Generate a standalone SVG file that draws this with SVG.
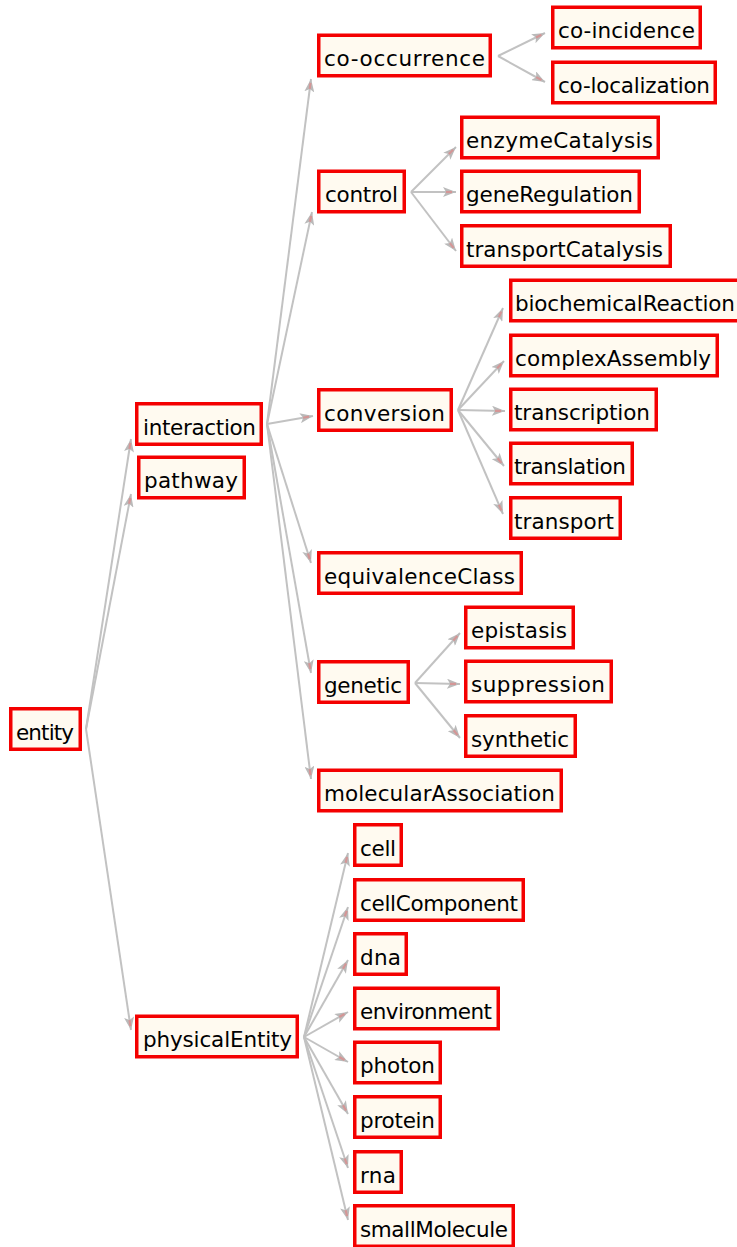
<svg xmlns="http://www.w3.org/2000/svg" width="737" height="1247" viewBox="0 0 737 1247">
  <style>
    .node rect { fill: #fffaf0; stroke: #f40000; stroke-width: 3.5; }
    .node text { font-family: "DejaVu Sans", Verdana, sans-serif; font-size: 21.5px; fill: #000; }
    .edges path { fill: none; stroke: #c2c2c2; stroke-width: 2; marker-end: url(#arr); }
  </style>
  <defs>
    <marker id="arr" markerUnits="userSpaceOnUse" markerWidth="14" markerHeight="10" refX="13" refY="5" orient="auto">
      <path d="M0,0 L13,5 L0,10 L3,5 Z" fill="#bababa"/>
      <path d="M3,5 L9,5" stroke="#d49696" stroke-width="2.2"/>
    </marker>
  </defs>
  <rect width="737" height="1247" fill="#ffffff"/>

  <!-- connectors: parent right side to child left side -->
  <g id="edges" class="edges">
    <path d="M86,729 L131,439"/>
    <path d="M86,729 L131,494"/>
    <path d="M86,729 L131,1030"/>
    <path d="M267,424 L311,79"/>
    <path d="M267,424 L312,212"/>
    <path d="M267,424 L313,416"/>
    <path d="M267,424 L311,563"/>
    <path d="M267,424 L311,673"/>
    <path d="M267,424 L311,779"/>
    <path d="M498,56 L545,33"/>
    <path d="M498,56 L545,82"/>
    <path d="M411,192 L456,147"/>
    <path d="M411,192 L456,192"/>
    <path d="M411,192 L456,251"/>
    <path d="M458,410 L503,308"/>
    <path d="M458,410 L504,361"/>
    <path d="M458,410 L505,411"/>
    <path d="M458,410 L504,466"/>
    <path d="M458,410 L503,514"/>
    <path d="M415,683 L460,633"/>
    <path d="M415,683 L460,684"/>
    <path d="M415,683 L460,738"/>
    <path d="M304,1037 L348,853"/>
    <path d="M304,1037 L348,907"/>
    <path d="M304,1037 L348,960"/>
    <path d="M304,1037 L348,1012"/>
    <path d="M304,1037 L348,1062"/>
    <path d="M304,1037 L348,1114"/>
    <path d="M304,1037 L348,1168"/>
    <path d="M304,1037 L348,1220"/>
  </g>

  <!-- nodes: outer box edge at x,y; size w x 44 -->
  <g id="n-entity" class="node"><rect x="10.75" y="708.75" width="69.5" height="40.5"/><text x="16" y="739.5" textLength="58" lengthAdjust="spacing">entity</text></g>
  <g id="n-interaction" class="node"><rect x="136.75" y="403.75" width="124.5" height="40.5"/><text x="143" y="434.5" textLength="113" lengthAdjust="spacing">interaction</text></g>
  <g id="n-pathway" class="node"><rect x="138.75" y="457.25" width="105.5" height="40.5"/><text x="144" y="488" textLength="94" lengthAdjust="spacing">pathway</text></g>
  <g id="n-physicalEntity" class="node"><rect x="136.75" y="1016.25" width="160.5" height="40.5"/><text x="143" y="1047" textLength="149" lengthAdjust="spacing">physicalEntity</text></g>

  <g id="n-co-occurrence" class="node"><rect x="318.75" y="35.25" width="171.5" height="40.5"/><text x="324" y="66" textLength="161" lengthAdjust="spacing">co-occurrence</text></g>
  <g id="n-control" class="node"><rect x="318.75" y="171.25" width="85.5" height="40.5"/><text x="325" y="202" textLength="73" lengthAdjust="spacing">control</text></g>
  <g id="n-conversion" class="node"><rect x="318.75" y="389.75" width="132.5" height="40.5"/><text x="324" y="420.5" textLength="121" lengthAdjust="spacing">conversion</text></g>
  <g id="n-equivalenceClass" class="node"><rect x="318.75" y="552.75" width="202.5" height="40.5"/><text x="324" y="583.5" textLength="191" lengthAdjust="spacing">equivalenceClass</text></g>
  <g id="n-genetic" class="node"><rect x="318.75" y="661.75" width="89.5" height="40.5"/><text x="324" y="692.5" textLength="78" lengthAdjust="spacing">genetic</text></g>
  <g id="n-molecularAssociation" class="node"><rect x="318.75" y="770.25" width="242.5" height="40.5"/><text x="324" y="801" textLength="231" lengthAdjust="spacing">molecularAssociation</text></g>

  <g id="n-co-incidence" class="node"><rect x="552.75" y="7.25" width="147.5" height="40.5"/><text x="558" y="38" textLength="137" lengthAdjust="spacing">co-incidence</text></g>
  <g id="n-co-localization" class="node"><rect x="552.75" y="62.25" width="162.5" height="40.5"/><text x="558" y="93" textLength="152" lengthAdjust="spacing">co-localization</text></g>

  <g id="n-enzymeCatalysis" class="node"><rect x="461.75" y="117.25" width="196.5" height="40.5"/><text x="466" y="148" textLength="187" lengthAdjust="spacing">enzymeCatalysis</text></g>
  <g id="n-geneRegulation" class="node"><rect x="461.75" y="171.25" width="177.5" height="40.5"/><text x="466" y="202" textLength="167" lengthAdjust="spacing">geneRegulation</text></g>
  <g id="n-transportCatalysis" class="node"><rect x="461.75" y="225.75" width="208.5" height="40.5"/><text x="466" y="256.5" textLength="197" lengthAdjust="spacing">transportCatalysis</text></g>

  <g id="n-biochemicalReaction" class="node"><rect x="510.75" y="280.25" width="234.5" height="40.5"/><text x="515" y="311" textLength="220" lengthAdjust="spacing">biochemicalReaction</text></g>
  <g id="n-complexAssembly" class="node"><rect x="510.75" y="335.25" width="206.5" height="40.5"/><text x="515" y="366" textLength="196" lengthAdjust="spacing">complexAssembly</text></g>
  <g id="n-transcription" class="node"><rect x="510.75" y="389.25" width="145.5" height="40.5"/><text x="514" y="420" textLength="136" lengthAdjust="spacing">transcription</text></g>
  <g id="n-translation" class="node"><rect x="510.75" y="443.25" width="121.5" height="40.5"/><text x="514" y="474" textLength="112" lengthAdjust="spacing">translation</text></g>
  <g id="n-transport" class="node"><rect x="510.75" y="497.75" width="109.5" height="40.5"/><text x="514" y="528.5" textLength="100" lengthAdjust="spacing">transport</text></g>

  <g id="n-epistasis" class="node"><rect x="465.75" y="607.25" width="107.5" height="40.5"/><text x="471" y="638" textLength="96" lengthAdjust="spacing">epistasis</text></g>
  <g id="n-suppression" class="node"><rect x="465.75" y="661.25" width="145.5" height="40.5"/><text x="471" y="692" textLength="134" lengthAdjust="spacing">suppression</text></g>
  <g id="n-synthetic" class="node"><rect x="465.75" y="715.75" width="109.5" height="40.5"/><text x="471" y="746.5" textLength="98" lengthAdjust="spacing">synthetic</text></g>

  <g id="n-cell" class="node"><rect x="354.75" y="824.75" width="46.5" height="40.5"/><text x="360" y="855.5" textLength="36" lengthAdjust="spacing">cell</text></g>
  <g id="n-cellComponent" class="node"><rect x="354.75" y="879.75" width="168.5" height="40.5"/><text x="360" y="910.5" textLength="158" lengthAdjust="spacing">cellComponent</text></g>
  <g id="n-dna" class="node"><rect x="354.75" y="933.75" width="51.5" height="40.5"/><text x="360" y="964.5" textLength="41" lengthAdjust="spacing">dna</text></g>
  <g id="n-environment" class="node"><rect x="354.75" y="988.25" width="143.5" height="40.5"/><text x="360" y="1019" textLength="132" lengthAdjust="spacing">environment</text></g>
  <g id="n-photon" class="node"><rect x="354.75" y="1042.25" width="85.5" height="40.5"/><text x="360" y="1073" textLength="75" lengthAdjust="spacing">photon</text></g>
  <g id="n-protein" class="node"><rect x="354.75" y="1096.75" width="85.5" height="40.5"/><text x="360" y="1127.5" textLength="75" lengthAdjust="spacing">protein</text></g>
  <g id="n-rna" class="node"><rect x="354.75" y="1151.75" width="46.5" height="40.5"/><text x="360" y="1182.5" textLength="36" lengthAdjust="spacing">rna</text></g>
  <g id="n-smallMolecule" class="node"><rect x="354.75" y="1205.75" width="158.5" height="40.5"/><text x="360" y="1236.5" textLength="148" lengthAdjust="spacing">smallMolecule</text></g>
</svg>
